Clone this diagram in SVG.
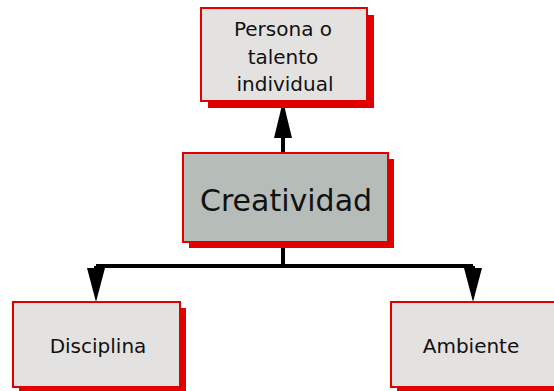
<svg xmlns="http://www.w3.org/2000/svg" width="554" height="391" viewBox="0 0 554 391">
<style>
.shadow{fill:#e00000;}
.box{fill:#e4e2e1;stroke:#e00000;stroke-width:2;}
.main{fill:#b6bcb8;stroke:#e00000;stroke-width:2;}
text{font-family:"DejaVu Sans",sans-serif;fill:#111;text-anchor:middle;}
.t{font-size:20px;}
.big{font-size:30px;}
.ln{stroke:#000;stroke-width:4;fill:none;}
.ah{fill:#000;}
</style>
<rect width="554" height="391" fill="#fff"/>
<g id="connectors">
<path class="ln" d="M283,153 V136"/>
<polygon class="ah" points="283,101 274,138 292,138"/>
<path class="ln" d="M283,242 V266"/>
<path class="ln" d="M96,266 H473"/>
<path class="ln" d="M96,266 V272"/>
<path class="ln" d="M473,266 V272"/>
<polygon class="ah" points="96,302 87,268 105,268"/>
<polygon class="ah" points="473,302 464,268 482,268"/>
</g>
<g id="persona">
<rect class="shadow" x="208" y="15" width="166" height="93"/>
<rect class="box" x="201" y="8" width="166" height="93"/>
<text class="t" x="283" y="36">Persona o</text>
<text class="t" x="283" y="64">talento</text>
<text class="t" x="285" y="91">individual</text>
</g>
<g id="creatividad">
<rect class="shadow" x="189" y="159" width="205" height="89"/>
<rect class="main" x="183" y="153" width="205" height="89"/>
<text class="big" x="286" y="211">Creatividad</text>
</g>
<g id="disciplina">
<rect class="shadow" x="19" y="308" width="167" height="85"/>
<rect class="box" x="13" y="302" width="167" height="85"/>
<text class="t" x="98" y="353">Disciplina</text>
</g>
<g id="ambiente">
<rect class="shadow" x="397" y="308" width="167" height="85"/>
<rect class="box" x="391" y="302" width="167" height="85"/>
<text class="t" x="471" y="353">Ambiente</text>
</g>
</svg>
